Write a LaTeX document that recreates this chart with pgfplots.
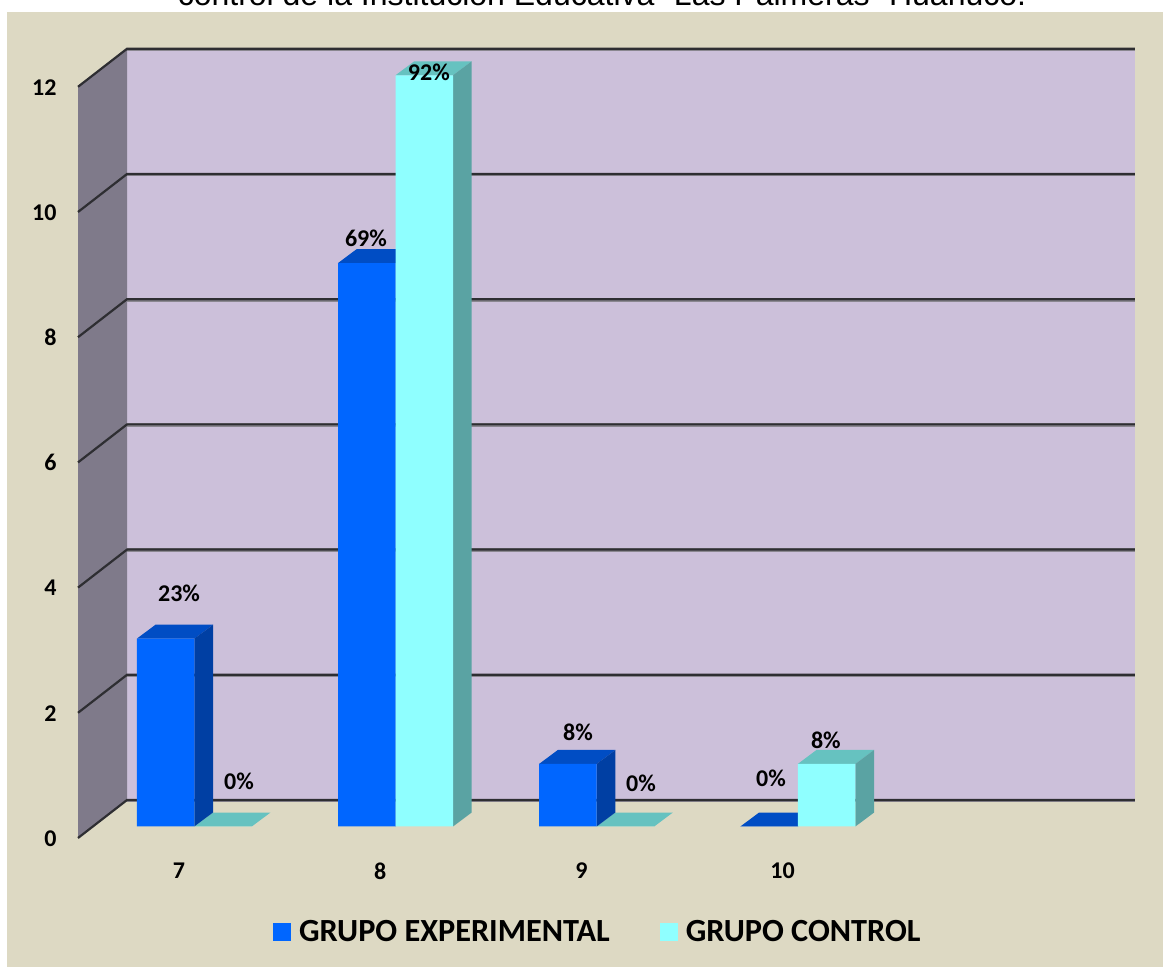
\documentclass[border=0pt]{standalone}
\usepackage{fontspec}
\setmainfont{Carlito}
\newfontfamily\titlefont{Liberation Sans}
\usepackage{pgfplots}
\pgfplotsset{compat=1.18}

\definecolor{panel}{HTML}{DDD9C3}
\definecolor{backwall}{HTML}{CCC0DA}
\definecolor{sidewall}{HTML}{7F7A8A}
\definecolor{gridline}{HTML}{2E2E32}
\definecolor{gridshade}{HTML}{8A8790}
\definecolor{bluefront}{HTML}{0066FF}
\definecolor{bluetop}{HTML}{004DC4}
\definecolor{blueside}{HTML}{003FA3}
\definecolor{cyanfront}{HTML}{8FFFFF}
\definecolor{cyantop}{HTML}{66C2C0}
\definecolor{cyanside}{HTML}{5AA3A3}

% Shift of the depth faces, in data units
\def\dx{0.093}
\def\dy{0.2236}

% Top and side faces of a bar: left edge, right edge, value, colours
\newcommand{\barfaces}[5]{%
  \addplot[fill=#4,draw=none,forget plot] coordinates
    {(#1,#3) (#2,#3) (#2+\dx,#3+\dy) (#1+\dx,#3+\dy)};
  \ifdim #3pt>0pt
  \addplot[fill=#5,draw=none,forget plot] coordinates
    {(#2,0) (#2+\dx,\dy) (#2+\dx,#3+\dy) (#2,#3)};
  \fi
}
% One horizontal grid level: across the side wall, then the back wall
\newcommand{\gridlevel}[1]{%
  \addplot[gridshade,line width=3.6pt,forget plot] coordinates
    {(6.6655,#1+0.4233-0.01) (11.6754,#1+0.4233-0.01)};
  \addplot[gridline,line width=2.2pt,forget plot] coordinates
    {(6.4220,#1-0.1837) (6.6655,#1+0.4233) (11.6754,#1+0.4233)};
}

\begin{document}
\begin{tikzpicture}[x=1pt,y=1pt]
  \clip (0,0) rectangle (1163,967);
  % Page panel and the two walls of the chart box
  \fill[white] (0,0) rectangle (1163,967);
  \fill[panel] (7,0) rectangle (1163,955);
  \fill[backwall] (127,167) rectangle (1135,919);
  \fill[sidewall] (78,129) -- (127,167) -- (127,919) -- (78,881) -- cycle;
  \begin{axis}[
    scale only axis,
    width=1163pt,height=967pt,
    at={(0,0)},anchor=south west,
    xmin=6.03429,xmax=11.81461,
    ymin=-2.2444,ymax=13.2029,
    clip=false,
    axis line style={draw=none},
    major tick style={draw=none},
    xtick={7,8,9,10},
    ytick={0,2,4,6,8,10,12},
    /pgf/number format/assume math mode=true,
    tick label style={font=\fontsize{24}{26}\selectfont\bfseries},
    xticklabel style={xshift=-15.3pt,yshift=108pt},
    yticklabel style={anchor=east,xshift=60pt,yshift=-12pt},
    legend style={
      at={(axis cs:7.376,-1.685)},anchor=west,
      draw=none,fill=none,
      font=\fontsize{32.3}{34}\selectfont\bfseries,
      /tikz/every odd column/.style={column sep=6pt},
      /tikz/every even column/.style={column sep=48pt},
    },
    legend columns=2,
    legend image code/.code={
      \fill[#1] (0pt,-9pt) rectangle (18pt,9pt);
    },
  ]
    \gridlevel{0}
    \gridlevel{2}
    \gridlevel{4}
    \gridlevel{6}
    \gridlevel{8}
    \gridlevel{10}
    \gridlevel{12}

    % Depth faces of the control group, then of the experimental group
    \barfaces{7}{7.2858}{0}{cyantop}{cyanside}
    \barfaces{8}{8.2858}{12}{cyantop}{cyanside}
    \barfaces{9}{9.2858}{0}{cyantop}{cyanside}
    \barfaces{10}{10.2858}{1}{cyantop}{cyanside}

    \barfaces{6.7142}{7}{3}{bluetop}{blueside}
    \barfaces{7.7142}{8}{9}{bluetop}{blueside}
    \barfaces{8.7142}{9}{1}{bluetop}{blueside}
    \barfaces{9.7142}{10}{0}{bluetop}{blueside}

    % Front faces
    \addplot[ybar,bar width=57.5pt,bar shift=-28.75pt,fill=bluefront,draw=none]
      coordinates {(7,3) (8,9) (9,1) (10,0)};
    \addlegendentry{GRUPO EXPERIMENTAL}
    \addplot[ybar,bar width=57.5pt,bar shift=28.75pt,fill=cyanfront,draw=none]
      coordinates {(7,0) (8,12) (9,0) (10,1)};
    \addlegendentry{GRUPO CONTROL}

    % Share of each group
    \begin{scope}[every node/.style={font=\fontsize{24}{26}\selectfont\bfseries,inner sep=0pt}]
      \node at (axis cs:6.924,3.730) {23\%};
      \node at (axis cs:7.222,0.727) {0\%};
      \node at (axis cs:7.853,9.401) {69\%};
      \node at (axis cs:8.166,12.053) {92\%};
      \node at (axis cs:8.907,1.510) {8\%};
      \node at (axis cs:9.220,0.695) {0\%};
      \node at (axis cs:9.866,0.775) {0\%};
      \node at (axis cs:10.139,1.382) {8\%};
    \end{scope}

    \node[anchor=base,inner sep=0pt,font=\titlefont\fontsize{32}{34}\selectfont]
      at (axis cs:9.0263,13.115) {control de la Institución Educativa “Las Palmeras” Huánuco.};
  \end{axis}
\end{tikzpicture}
\end{document}
